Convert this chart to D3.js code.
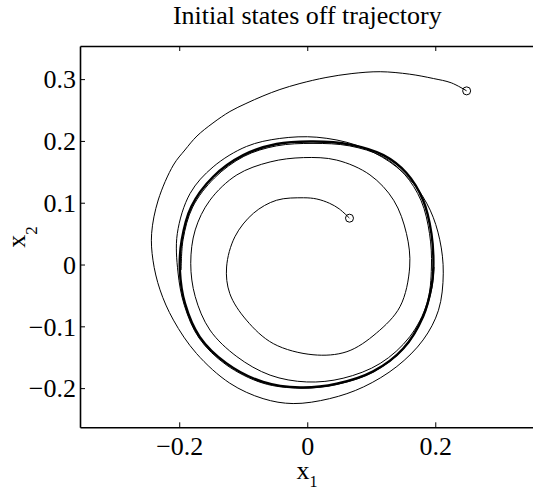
<!DOCTYPE html>
<html><head><meta charset="utf-8">
<script src="https://cdn.jsdelivr.net/npm/d3@7"></script>
<style>
body{margin:0;background:#fff}
svg{display:block}
text{font-family:"Liberation Serif","Times New Roman",serif;fill:#000}
</style>
</head><body>
<svg id="c" width="533" height="489"></svg>
<script>
const title = "Initial states off trajectory";
const xTicks = [-0.2, 0, 0.2];
const yTicks = [-0.2, -0.1, 0, 0.1, 0.2, 0.3];
const xDomain = [-0.355, 0.355];
const yDomain = [-0.2634, 0.3536];
const startPoints = [[0.249, 0.281], [0.066, 0.075]];
const outerTrajectory = [
  [0.249,0.281],[0.225,0.294],[0.197,0.301],[0.160,0.308],[0.114,0.312],[0.0698,0.309],
  [0.0292,0.3026],[-0.0114,0.2929],[-0.0427,0.2832],[-0.0692,0.2727],[-0.0958,0.2605],
  [-0.1208,0.2476],[-0.1473,0.2290],[-0.1723,0.2079],[-0.1911,0.1853],[-0.2091,0.1610],
  [-0.2328,0.1044],[-0.2431,0.0505],[-0.241,0.007],[-0.230,-0.041],[-0.209,-0.090],
  [-0.173,-0.144],[-0.121,-0.192],[-0.069,-0.217],[-0.022,-0.225],[0.035,-0.217],[0.088,-0.198],
  [0.140,-0.165],[0.181,-0.122],[0.205,-0.074],[0.2125,-0.014],[0.207,0.040],[0.192,0.088],
  [0.166,0.131],[0.129,0.166],[0.077,0.193],[0.015,0.206],[-0.043,0.204],[-0.095,0.191],
  [-0.147,0.158],[-0.183,0.115],[-0.203,0.050],[-0.202,-0.012],[-0.192,-0.066],[-0.169,-0.119],
  [-0.127,-0.162],[-0.069,-0.192],[-0.011,-0.200],[0.046,-0.194],[0.103,-0.174],[0.150,-0.137],
  [0.181,-0.085],[0.195,-0.036],[0.198,-0.004]
];
const innerTrajectory = [
  [0.066,0.075],[0.050,0.090],[0.035,0.099],[0.015,0.106],[-0.006,0.108],[-0.048,0.104],
  [-0.084,0.083],[-0.113,0.045],[-0.126,-0.004],[-0.121,-0.047],[-0.095,-0.090],[-0.053,-0.128],
  [0.009,-0.146],[0.062,-0.141],[0.108,-0.111],[0.145,-0.068],[0.160,-0.004],[0.155,0.050],
  [0.135,0.104],[0.098,0.145],[0.046,0.169],[-0.006,0.173],[-0.058,0.166],[-0.110,0.145],
  [-0.152,0.104],[-0.175,0.056],[-0.182,0.002],[-0.175,-0.052],[-0.152,-0.106],[-0.110,-0.149],
  [-0.058,-0.179],[-0.001,-0.190],[0.056,-0.184],[0.114,-0.160],[0.160,-0.117],[0.187,-0.063],
  [0.194,-0.004],[0.191,0.050],[0.178,0.103],[0.152,0.146],[0.117,0.175],[0.066,0.192],
  [0.009,0.196],[-0.048,0.192],[-0.099,0.175],[-0.145,0.140],[-0.179,0.093],[-0.194,0.040],
  [-0.197,-0.009]
];
const limitCycle = [
  [0.197,-0.004],[0.194,0.050],[0.181,0.104],[0.155,0.148],[0.119,0.177],[0.067,0.194],
  [0.009,0.199],[-0.048,0.195],[-0.100,0.177],[-0.147,0.142],[-0.181,0.094],[-0.196,0.040],
  [-0.199,-0.009],[-0.191,-0.063],[-0.168,-0.117],[-0.126,-0.160],[-0.069,-0.190],[-0.011,-0.199],
  [0.046,-0.193],[0.103,-0.173],[0.150,-0.136],[0.181,-0.084],[0.194,-0.036]
];

const svg = d3.select("#c");
const x = d3.scaleLinear().domain(xDomain).range([80, 534.5]);
const y = d3.scaleLinear().domain(yDomain).range([427.3, 46]);
const fmt = d => d === 0 ? "0" : d3.format(".1f")(d);

// curves
const line = d3.line().x(d => x(d[0])).y(d => y(d[1])).curve(d3.curveCatmullRom.alpha(0.5));
const closed = d3.line().x(d => x(d[0])).y(d => y(d[1])).curve(d3.curveCatmullRomClosed.alpha(0.5));
const g = svg.append("g");
g.append("path").attr("d", closed(limitCycle)).attr("fill","none").attr("stroke","#000").attr("stroke-width",2.4);
[outerTrajectory, innerTrajectory].forEach(t =>
  g.append("path").attr("d", line(t)).attr("fill","none").attr("stroke","#000").attr("stroke-width",1));
g.selectAll("circle").data(startPoints).join("circle")
  .attr("cx", d => x(d[0])).attr("cy", d => y(d[1])).attr("r", 4)
  .attr("fill","none").attr("stroke","#000").attr("stroke-width",1);

// axes
const fs = 26;
const bx = svg.append("g").attr("transform", `translate(0,${y.range()[0]})`)
  .call(d3.axisBottom(x).tickValues(xTicks).tickFormat(fmt).tickSizeInner(-5).tickSizeOuter(0).tickPadding(9));
const tx = svg.append("g").attr("transform", `translate(0,${y.range()[1]})`)
  .call(d3.axisTop(x).tickValues(xTicks).tickFormat("").tickSizeInner(-5).tickSizeOuter(0));
const ly = svg.append("g").attr("transform", `translate(${x.range()[0]},0)`)
  .call(d3.axisLeft(y).tickValues(yTicks).tickFormat(fmt).tickSizeInner(-5).tickSizeOuter(0).tickPadding(4));
[bx, tx, ly].forEach(a => {
  a.selectAll("path.domain").attr("stroke","#000").attr("stroke-width",1.6);
  a.selectAll(".tick line").attr("stroke","#000").attr("stroke-width",1);
  a.selectAll("text").attr("font-family", null).style("font-family", '"Liberation Serif","Times New Roman",serif')
    .attr("font-size", fs).attr("fill","#000");
});
ly.selectAll("text").attr("dy","0.34em");

// title
svg.append("text").attr("x", 307.3).attr("y", 24).attr("text-anchor","middle")
  .attr("font-size", fs).text(title);

// axis labels
const xl = svg.append("text").attr("x", 307).attr("y", 479).attr("text-anchor","middle").attr("font-size", fs);
xl.append("tspan").text("x");
xl.append("tspan").attr("font-size", 16).attr("dy", 8).text("1");

const yl = svg.append("text").attr("transform","translate(25,237) rotate(-90)").attr("text-anchor","middle").attr("font-size", fs);
yl.append("tspan").text("x");
yl.append("tspan").attr("font-size", 17).attr("dy", 12).text("2");
</script>
</body></html>
